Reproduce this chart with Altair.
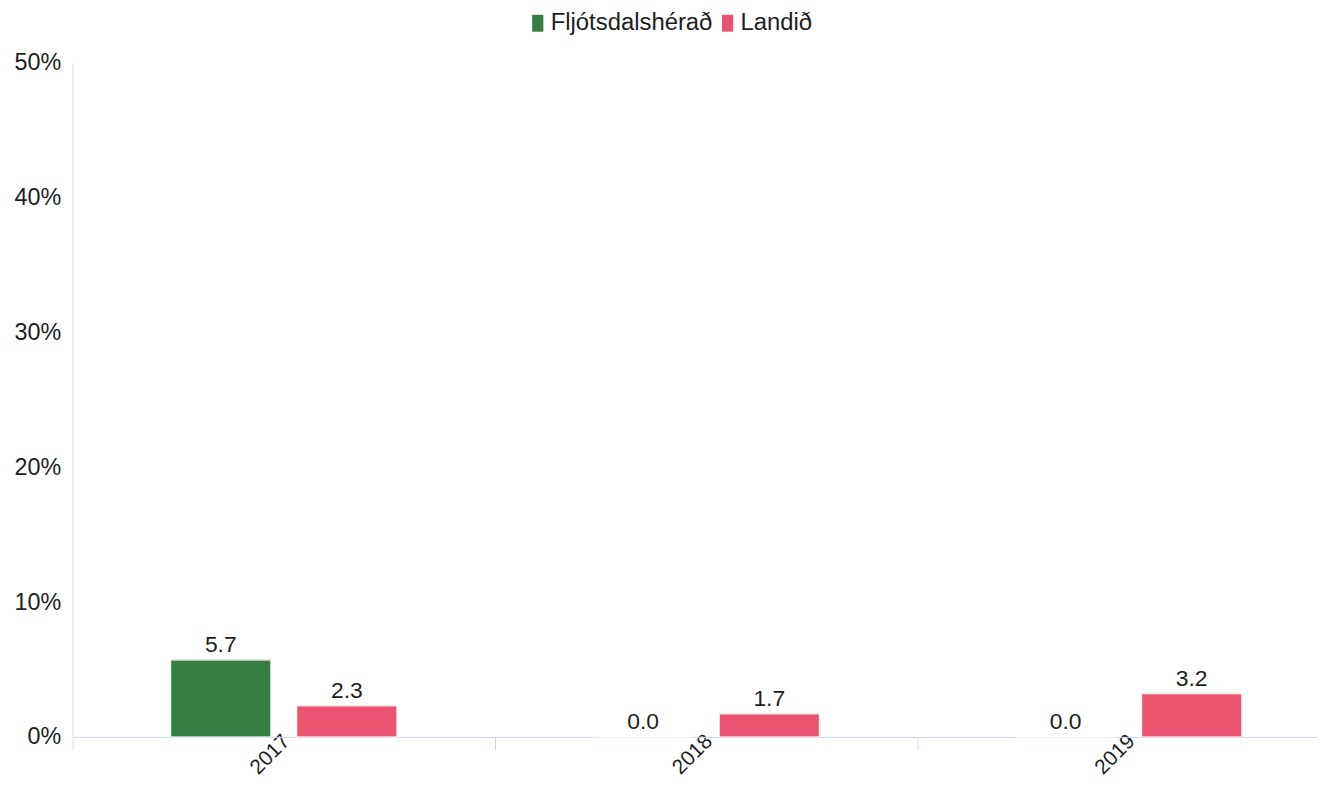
import altair as alt
import pandas as pd

years = ["2017", "2018", "2019"]
series = ["Fljótsdalshérað", "Landið"]
flj = [5.7, 0.0, 0.0]
landid = [2.3, 1.7, 3.2]
colors = ["#377e42", "#eb5471"]
y_ticks = [0, 10, 20, 30, 40, 50]

rows = []
for i, yr in enumerate(years):
    rows.append({"year": yr, "series": series[0], "value": flj[i]})
    rows.append({"year": yr, "series": series[1], "value": landid[i]})
df = pd.DataFrame(rows)

FONT = "Liberation Sans"
TXT = "#1e1e1e"

x = alt.X("year:N", sort=years, title=None,
          scale=alt.Scale(range=[0, 1275], paddingInner=0, paddingOuter=0),
          axis=alt.Axis(labelAngle=315, labelAlign="right", labelBaseline="middle",
                        labelFontSize=21, labelFont=FONT, labelColor=TXT,
                        labelPadding=-12, labelOffset=3, domainColor="#ccd6eb",
                        tickColor="#ccd6eb", tickSize=13, grid=False, bandPosition=0))
xo = alt.XOffset("series:N", sort=series,
                 scale=alt.Scale(paddingInner=0.206, paddingOuter=0.778))
y = alt.Y("value:Q", title=None,
          scale=alt.Scale(domain=[0, 50], nice=False),
          axis=alt.Axis(values=y_ticks, labelExpr="datum.value + '%'",
                        labelFontSize=23.5, labelFont=FONT, labelColor=TXT,
                        labelPadding=12, ticks=False, grid=False,
                        domainColor="#ccd6eb"))
color = alt.Color("series:N", sort=series,
                  scale=alt.Scale(domain=series, range=colors),
                  legend=alt.Legend(title=None, orient="none", direction="horizontal",
                                    legendX=456, legendY=-52, padding=0,
                                    labelFontSize=24, labelFont=FONT, labelColor=TXT,
                                    labelLimit=400,
                                    symbolType="M-0.66,-1H0.66V1H-0.66Z",
                                    symbolSize=289, symbolStrokeWidth=0,
                                    symbolOpacity=1, labelOffset=1, columnPadding=3))

base = alt.Chart(df)
shadow = base.mark_bar(color="#cfcfcf", xOffset=2, yOffset=-1).encode(
    x=alt.X("year:N", sort=years), xOffset=alt.XOffset("series:N", sort=series),
    y=alt.Y("value:Q"),
    opacity=alt.condition(alt.datum.value > 0, alt.value(1), alt.value(0)))
bars = base.mark_bar(stroke="white", strokeWidth=1).encode(x=x, xOffset=xo, y=y, color=color)
labels = base.mark_text(baseline="bottom", dy=-3, fontSize=23, font=FONT, color=TXT).encode(
    x=alt.X("year:N", sort=years), xOffset=alt.XOffset("series:N", sort=series),
    y=alt.Y("value:Q"), text=alt.Text("value:Q", format=".1f"))

chart = alt.layer(shadow, bars, labels).properties(
    width=1252, height=678,
    autosize=alt.AutoSizeParams(type="none"),
    padding={"left": 65, "top": 53, "right": 0, "bottom": 39},
).configure_view(stroke=None)

chart.save("out.html", embed_options={"renderer": "svg", "actions": False})
